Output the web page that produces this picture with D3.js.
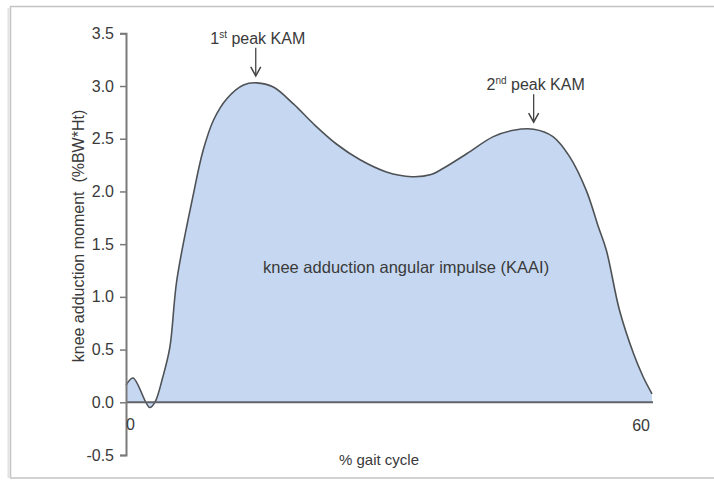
<!DOCTYPE html>
<html>
<head>
<meta charset="utf-8">
<script src="https://cdn.jsdelivr.net/npm/d3@7"></script>
<style>
  body { margin: 0; background: #fff; }
  text { font-family: "Liberation Sans", Arial, sans-serif; fill: #3a3a3a; }
</style>
</head>
<body>
<div class="chart"></div>
<script>
// % gait cycle and knee adduction moment (%BW*Ht)
var gaitPct = [0, 0.8, 2.7, 3.3, 4.2, 5.0, 5.8, 7.7, 8.8, 10.0, 11.5, 13.4, 14.9, 16.8, 19.1, 21.4,
  24.0, 26.7, 29.7, 32.6, 34.8, 36.2, 38.9, 41.9, 44.2, 46.5, 48.7, 50.6, 52.5, 53.9, 54.8, 56.3, 57.9, 59.0, 60.0];
var kam = [0.16, 0.23, -0.05, 0.0, 0.24, 0.52, 1.16, 1.98, 2.39, 2.68, 2.88, 3.01, 3.03, 2.99, 2.83, 2.64,
  2.45, 2.30, 2.185, 2.14, 2.16, 2.22, 2.36, 2.52, 2.58, 2.59, 2.52, 2.33, 2.01, 1.66, 1.44, 0.87, 0.46, 0.24, 0.08];

var yTicks = [-0.5, 0, 0.5, 1.0, 1.5, 2.0, 2.5, 3.0, 3.5];
var xTickLabels = ["0", "60"];

// peak annotations
var peakNum = ["1", "2"];
var peakSup = ["st", "nd"];
var peakX = [14.8, 46.5];
var peakVal = [3.03, 2.59];

var svgWidth = 714;
var svgHeight = 481;

var svg = d3.select(".chart")
  .append("svg")
  .attr("width", svgWidth)
  .attr("height", svgHeight);

// frame round the figure
svg.append("rect")
  .attr("x", 10.5).attr("y", 6.5)
  .attr("width", 720).attr("height", 471.5)
  .attr("fill", "none")
  .attr("stroke", "#c4c4c4")
  .attr("stroke-width", 1.5);
svg.append("line")
  .attr("x1", 8.5).attr("x2", 8.5).attr("y1", 8).attr("y2", 478)
  .attr("stroke", "#e2e2e2").attr("stroke-width", 2);

var x = d3.scaleLinear().domain([0, 60]).range([126, 652]);
var y = d3.scaleLinear().domain([-0.5, 3.5]).range([455, 33.3]);

var data = gaitPct.map(function(g, i) { return { g: g, v: kam[i] }; });

// area under the curve
var area = d3.area()
  .x(d => x(d.g))
  .y0(y(0))
  .y1(d => y(d.v))
  .curve(d3.curveCatmullRom.alpha(0.5));

svg.append("path")
  .datum(data)
  .attr("d", area)
  .attr("fill", "#c6d8f1");

var line = d3.line()
  .x(d => x(d.g))
  .y(d => y(d.v))
  .curve(d3.curveCatmullRom.alpha(0.5));

svg.append("path")
  .datum(data)
  .attr("d", line)
  .attr("fill", "none")
  .attr("stroke", "#4e5256")
  .attr("stroke-width", 1.6);

// zero line
svg.append("line")
  .attr("x1", x(0)).attr("x2", x(60) + 1)
  .attr("y1", y(0)).attr("y2", y(0))
  .attr("stroke", "#5f6368")
  .attr("stroke-width", 2);

// y axis
var leftAxis = d3.axisLeft(y)
  .tickValues(yTicks)
  .tickFormat(d => d.toFixed(1))
  .tickSize(6)
  .tickPadding(6);

var yAxis = svg.append("g")
  .attr("transform", `translate(${x(0)},0)`)
  .call(leftAxis);
yAxis.select(".domain").attr("stroke", "#7a7a7a").attr("stroke-width", 2);
yAxis.selectAll(".tick line").attr("stroke", "#7a7a7a").attr("stroke-width", 1.5);
yAxis.selectAll(".tick text")
  .style("font-size", "16px")
  .style("font-family", "Liberation Sans, Arial, sans-serif")
  .attr("fill", "#3a3a3a");

// x labels at both ends
svg.append("text")
  .attr("x", x(0)).attr("y", 430)
  .style("font-size", "16px")
  .text(xTickLabels[0]);
svg.append("text")
  .attr("x", x(60) - 2).attr("y", 431)
  .attr("text-anchor", "end")
  .style("font-size", "16px")
  .text(xTickLabels[1]);

// axis titles
svg.append("text")
  .attr("transform", `translate(84, 236) rotate(-90)`)
  .attr("text-anchor", "middle")
  .style("font-size", "16px")
  .style("white-space", "pre")
  .text("knee adduction moment  (%BW*Ht)");

svg.append("text")
  .attr("x", 379).attr("y", 465)
  .attr("text-anchor", "middle")
  .style("font-size", "15px")
  .text("% gait cycle");

// area label
svg.append("text")
  .attr("x", 263).attr("y", 273)
  .style("font-size", "16.5px")
  .text("knee adduction angular impulse (KAAI)");

// peak labels and arrows
peakNum.forEach(function(n, i) {
  var px = x(peakX[i]);
  var tip = y(peakVal[i]) - 7;

  var t = svg.append("text")
    .attr("x", px + 2).attr("y", tip - 32)
    .attr("text-anchor", "middle")
    .style("font-size", "16px");
  t.append("tspan").text(n);
  t.append("tspan").attr("dy", -6).style("font-size", "10px").text(peakSup[i]);
  t.append("tspan").attr("dy", 6).text(" peak KAM");

  svg.append("line")
    .attr("x1", px).attr("x2", px)
    .attr("y1", tip - 28).attr("y2", tip)
    .attr("stroke", "#444").attr("stroke-width", 1.3);
  svg.append("path")
    .attr("d", `M${px - 5},${tip - 9} L${px},${tip} L${px + 5},${tip - 9}`)
    .attr("fill", "none")
    .attr("stroke", "#444").attr("stroke-width", 1.5);
});
</script>
</body>
</html>
